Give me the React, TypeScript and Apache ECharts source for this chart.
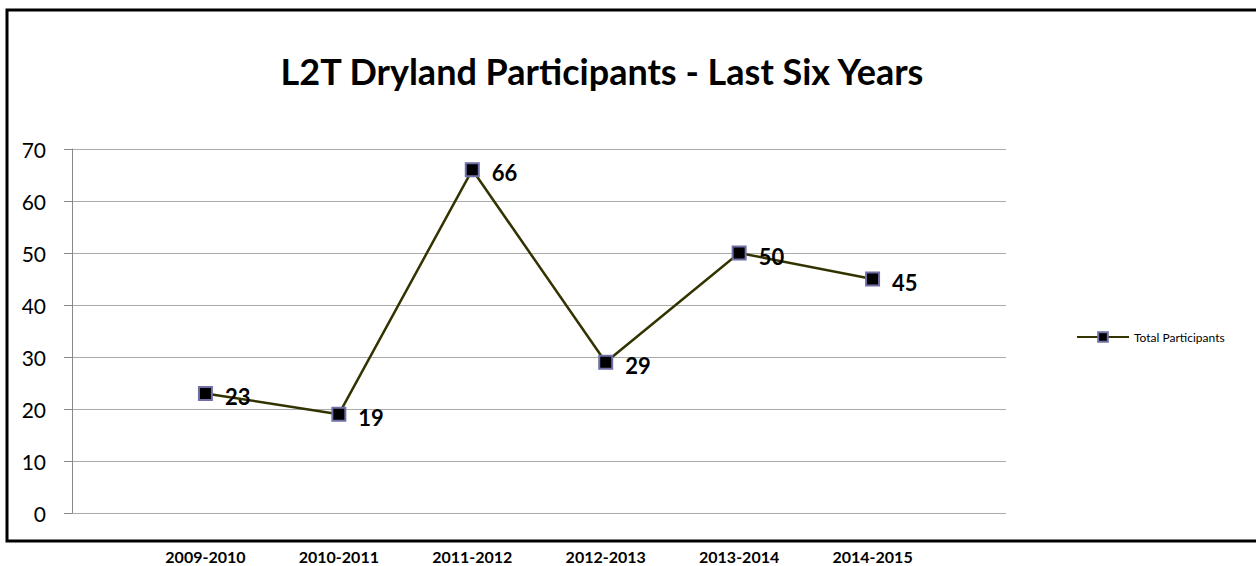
import React, { useEffect, useRef } from "react";
import * as echarts from "echarts";

const categories = ["2009-2010", "2010-2011", "2011-2012", "2012-2013", "2013-2014", "2014-2015"];
const participants = [23, 19, 66, 29, 50, 45];
const seriesName = "Total Participants";
const titleText = "L2T Dryland Participants - Last Six Years";

const FONT = "Lato, 'Open Sans', sans-serif";

export default function App() {
  const ref = useRef<HTMLDivElement>(null);
  useEffect(() => {
    document.body.style.margin = "0";
    const chart = echarts.init(ref.current!, null, { renderer: "svg" });
    const axisCats = ["", ...categories, ""];
    const axisData = [null, ...participants, null];
    chart.setOption({
      animation: false,
      backgroundColor: "#ffffff",
      graphic: [
        {
          type: "rect",
          shape: { x: 7, y: 10, width: 1260, height: 531 },
          style: { fill: "none", stroke: "#000", lineWidth: 3 },
          silent: true,
          z: 0,
        },
      ],
      title: {
        text: titleText,
        left: 597,
        textAlign: "center",
        top: 48,
        textStyle: { fontFamily: FONT, fontWeight: "bold", fontSize: 36, color: "#000" },
      },
      legend: {
        left: 1071,
        top: 326,
        orient: "vertical",
        itemWidth: 52,
        itemHeight: 12,
        itemGap: 6,
        textStyle: { fontFamily: FONT, fontSize: 12, color: "#000" },
        data: [seriesName],
      },
      grid: { left: 72, right: 250, top: 149, bottom: 53, containLabel: false },
      xAxis: {
        type: "category",
        data: axisCats,
        boundaryGap: false,
        axisLine: { show: false },
        axisTick: { show: false },
        axisLabel: {
          margin: 35,
          interval: 0,
          fontFamily: FONT,
          fontWeight: "bold",
          fontSize: 16,
          lineHeight: 16,
          color: "#000",
        },
        splitLine: { show: false },
      },
      yAxis: {
        type: "value",
        min: 0,
        max: 70,
        interval: 10,
        axisLine: { show: true, lineStyle: { color: "#888", width: 1 } },
        axisTick: { show: true, length: 8, lineStyle: { color: "#888" } },
        axisLabel: { margin: 26, fontFamily: FONT, fontSize: 21, color: "#000" },
        splitLine: { show: true, lineStyle: { color: "#aaa", width: 1 } },
      },
      series: [
        {
          name: seriesName,
          type: "line",
          data: axisData,
          connectNulls: false,
          symbol: "rect",
          symbolSize: 13,
          lineStyle: { color: "#333300", width: 2.5 },
          itemStyle: { color: "#000", borderColor: "#7070a8", borderWidth: 2 },
          label: {
            show: true,
            position: "right",
            distance: 12,
            fontFamily: FONT,
            fontWeight: "bold",
            fontSize: 22,
            color: "#000",
            offset: [0, 3],
          },
          z: 3,
        },
      ],
    });
    return () => chart.dispose();
  }, []);
  return <div ref={ref} style={{ width: 1256, height: 566 }} />;
}
